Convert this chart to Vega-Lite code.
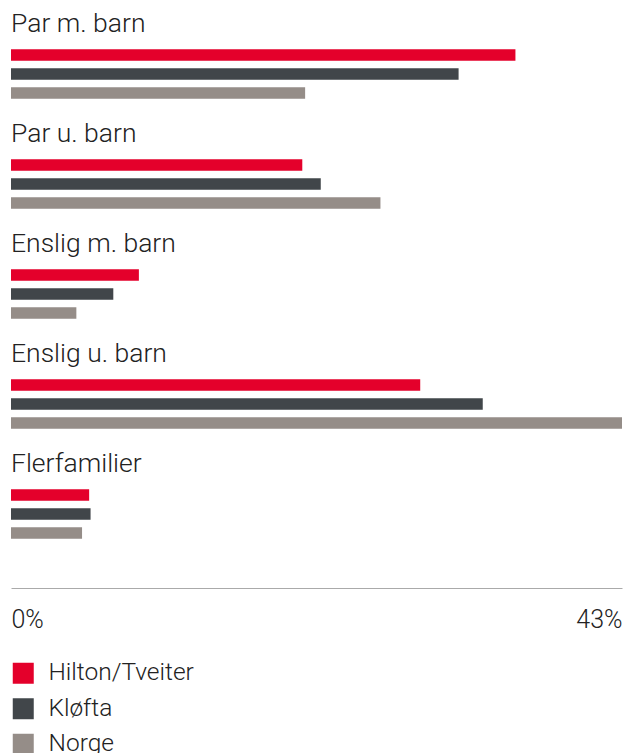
{
  "$schema": "https://vega.github.io/schema/vega-lite/v6.json",
  "width": 611,
  "height": 588,
  "padding": {"left": 11, "top": 0, "right": 6, "bottom": 0},
  "background": "white",
  "config": {
    "view": {"stroke": null},
    "font": "Roboto",
    "text": {"font": "Roboto"}
  },
  "datasets": {
    "bars": [
      {"kategori": "Par m. barn", "serie": "Hilton/Tveiter", "verdi": 35.5},
      {"kategori": "Par m. barn", "serie": "Kløfta", "verdi": 31.5},
      {"kategori": "Par m. barn", "serie": "Norge", "verdi": 20.7},
      {"kategori": "Par u. barn", "serie": "Hilton/Tveiter", "verdi": 20.5},
      {"kategori": "Par u. barn", "serie": "Kløfta", "verdi": 21.8},
      {"kategori": "Par u. barn", "serie": "Norge", "verdi": 26.0},
      {"kategori": "Enslig m. barn", "serie": "Hilton/Tveiter", "verdi": 9.0},
      {"kategori": "Enslig m. barn", "serie": "Kløfta", "verdi": 7.2},
      {"kategori": "Enslig m. barn", "serie": "Norge", "verdi": 4.6},
      {"kategori": "Enslig u. barn", "serie": "Hilton/Tveiter", "verdi": 28.8},
      {"kategori": "Enslig u. barn", "serie": "Kløfta", "verdi": 33.2},
      {"kategori": "Enslig u. barn", "serie": "Norge", "verdi": 43.0},
      {"kategori": "Flerfamilier", "serie": "Hilton/Tveiter", "verdi": 5.5},
      {"kategori": "Flerfamilier", "serie": "Kløfta", "verdi": 5.6},
      {"kategori": "Flerfamilier", "serie": "Norge", "verdi": 5.0}
    ],
    "labels": [
      {"kategori": "Par m. barn"},
      {"kategori": "Par u. barn"},
      {"kategori": "Enslig m. barn"},
      {"kategori": "Enslig u. barn"},
      {"kategori": "Flerfamilier"}
    ]
  },
  "layer": [
    {
      "data": {"name": "bars"},
      "mark": {"type": "bar"},
      "encoding": {
        "y": {
          "field": "kategori",
          "type": "nominal",
          "sort": ["Par m. barn", "Par u. barn", "Enslig m. barn", "Enslig u. barn", "Flerfamilier"],
          "scale": {"paddingInner": 0.378, "paddingOuter": 0.3616, "align": 0.5},
          "axis": null
        },
        "yOffset": {
          "field": "serie",
          "type": "nominal",
          "sort": ["Hilton/Tveiter", "Kløfta", "Norge"],
          "scale": {"paddingInner": 0.4, "paddingOuter": 0.5, "align": 0.5}
        },
        "x": {
          "field": "verdi",
          "type": "quantitative",
          "scale": {"domain": [0, 43], "nice": false, "zero": true},
          "axis": {
            "values": [0, 43],
            "labelExpr": "datum.value + '%'",
            "title": null,
            "grid": false,
            "ticks": false,
            "domainColor": "#aaaaaa",
            "domainWidth": 1,
            "labelFont": "Roboto",
            "labelFontWeight": 300,
            "labelFontSize": 25,
            "labelColor": "#222222",
            "labelPadding": 19,
            "labelFlush": true,
            "labelFlushOffset": 0
          }
        },
        "color": {
          "field": "serie",
          "type": "nominal",
          "sort": ["Hilton/Tveiter", "Kløfta", "Norge"],
          "scale": {
            "domain": ["Hilton/Tveiter", "Kløfta", "Norge"],
            "range": ["#e4002b", "#41464a", "#958d88"]
          },
          "legend": {
            "title": null,
            "orient": "none",
            "direction": "vertical",
            "legendX": 0,
            "legendY": 661,
            "symbolType": "square",
            "symbolSize": 441,
            "symbolStrokeWidth": 0,
            "symbolOpacity": 1,
            "labelFont": "Roboto",
            "labelFontWeight": 300,
            "labelFontSize": 24.5,
            "labelColor": "#222222",
            "labelOffset": 13,
            "rowPadding": 10.5
          }
        }
      }
    },
    {
      "data": {"name": "labels"},
      "mark": {
        "type": "text",
        "align": "left",
        "baseline": "alphabetic",
        "dy": -8,
        "fontSize": 26.5,
        "fontWeight": 300,
        "font": "Roboto",
        "color": "#222222"
      },
      "encoding": {
        "y": {
          "field": "kategori",
          "type": "nominal",
          "bandPosition": 0,
          "sort": ["Par m. barn", "Par u. barn", "Enslig m. barn", "Enslig u. barn", "Flerfamilier"]
        },
        "x": {"datum": 0},
        "text": {"field": "kategori"}
      }
    }
  ]
}
